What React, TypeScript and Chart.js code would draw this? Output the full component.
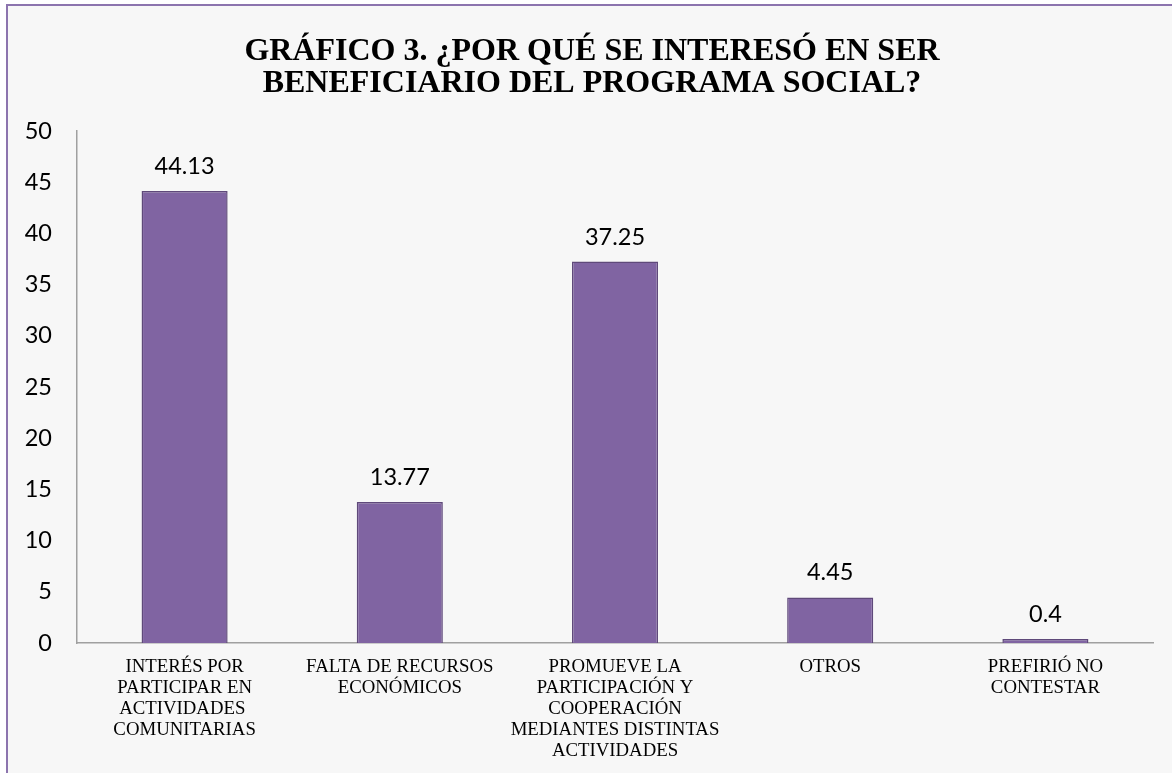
import React, { useEffect, useRef } from "react";
import { Chart, registerables } from "chart.js";

Chart.register(...registerables);

const categories: (string | string[])[] = [
  ["INTERÉS POR", "PARTICIPAR EN", "ACTIVIDADES ", "COMUNITARIAS"],
  ["FALTA DE RECURSOS", "ECONÓMICOS"],
  ["PROMUEVE LA", "PARTICIPACIÓN Y", "COOPERACIÓN", "MEDIANTES DISTINTAS", "ACTIVIDADES"],
  ["OTROS"],
  ["PREFIRIÓ NO", "CONTESTAR"],
];
const values: number[] = [44.13, 13.77, 37.25, 4.45, 0.4];
const titleLines: string[] = [
  "GRÁFICO 3. ¿POR QUÉ SE INTERESÓ EN SER",
  "BENEFICIARIO DEL PROGRAMA SOCIAL?",
];
const yMax = 50;
const yStep = 5;

const W = 1172;
const H = 773;
const numFont = "Lato, 'Noto Sans', sans-serif";

const titlePlugin = {
  id: "customTitle",
  afterDraw(chart: any) {
    const ctx = chart.ctx;
    ctx.save();
    ctx.fillStyle = "#000";
    ctx.font = "bold 32px 'Liberation Serif', 'Times New Roman', serif";
    ctx.textAlign = "center";
    ctx.textBaseline = "alphabetic";
    ctx.fillText(titleLines[0], 592, 60);
    ctx.fillText(titleLines[1], 592, 92);
    ctx.restore();
  },
};

const dataLabelPlugin = {
  id: "dataLabels",
  afterDatasetsDraw(chart: any) {
    const ctx = chart.ctx;
    const meta = chart.getDatasetMeta(0);
    ctx.save();
    ctx.fillStyle = "#000";
    ctx.font = `23.5px ${numFont}`;
    ctx.textAlign = "center";
    ctx.textBaseline = "alphabetic";
    meta.data.forEach((bar: any, i: number) => {
      ctx.fillText(String(values[i]), bar.x, bar.y - 17);
    });
    ctx.restore();
  },
};

export default function App() {
  const ref = useRef<HTMLCanvasElement>(null);
  useEffect(() => {
    if (!ref.current) return;
    const chart = new Chart(ref.current, {
      type: "bar",
      data: {
        labels: categories,
        datasets: [
          {
            data: values,
            backgroundColor: "#8064A2",
            borderColor: "#5F497A",
            borderWidth: 1.5,
            barPercentage: 0.4,
            categoryPercentage: 1,
          },
        ],
      },
      options: {
        animation: false,
        responsive: false,
        maintainAspectRatio: false,
        layout: { padding: { top: 131, left: 0, right: W - 1153, bottom: 0 } },
        plugins: {
          legend: { display: false },
          title: { display: false },
          tooltip: { enabled: false },
        },
        scales: {
          x: {
            afterFit: (scale: any) => {
              scale.height = H - 643;
            },
            grid: { display: false, drawTicks: false },
            border: { display: true, color: "#A0A0A0", width: 1.5 },
            ticks: {
              color: "#000",
              padding: 14,
              maxRotation: 0,
              autoSkip: false,
              font: { family: "'Liberation Serif', 'Times New Roman', serif", size: 18.8, lineHeight: "21px" } as any,
            },
          },
          y: {
            min: 0,
            max: yMax,
            afterFit: (scale: any) => {
              scale.width = 77;
            },
            grid: { display: false, drawTicks: false },
            border: { display: true, color: "#A0A0A0", width: 1.5 },
            ticks: {
              stepSize: yStep,
              color: "#000",
              padding: 25,
              font: { family: numFont, size: 23.5 },
            },
          },
        },
      },
      plugins: [titlePlugin, dataLabelPlugin],
    });
    return () => chart.destroy();
  }, []);

  return (
    <div style={{ position: "fixed", left: 0, top: 0, width: W, height: H, background: "#fff", overflow: "hidden" }}>
      <div
        style={{
          position: "absolute",
          left: 6,
          top: 4,
          width: W + 50,
          height: H + 50,
          background: "#F7F7F7",
          borderLeft: "2px solid #8C74AE",
          borderTop: "2px solid #8C74AE",
        }}
      />
      <canvas ref={ref} width={W} height={H} style={{ position: "absolute", left: 0, top: 0, width: W, height: H }} />
    </div>
  );
}
